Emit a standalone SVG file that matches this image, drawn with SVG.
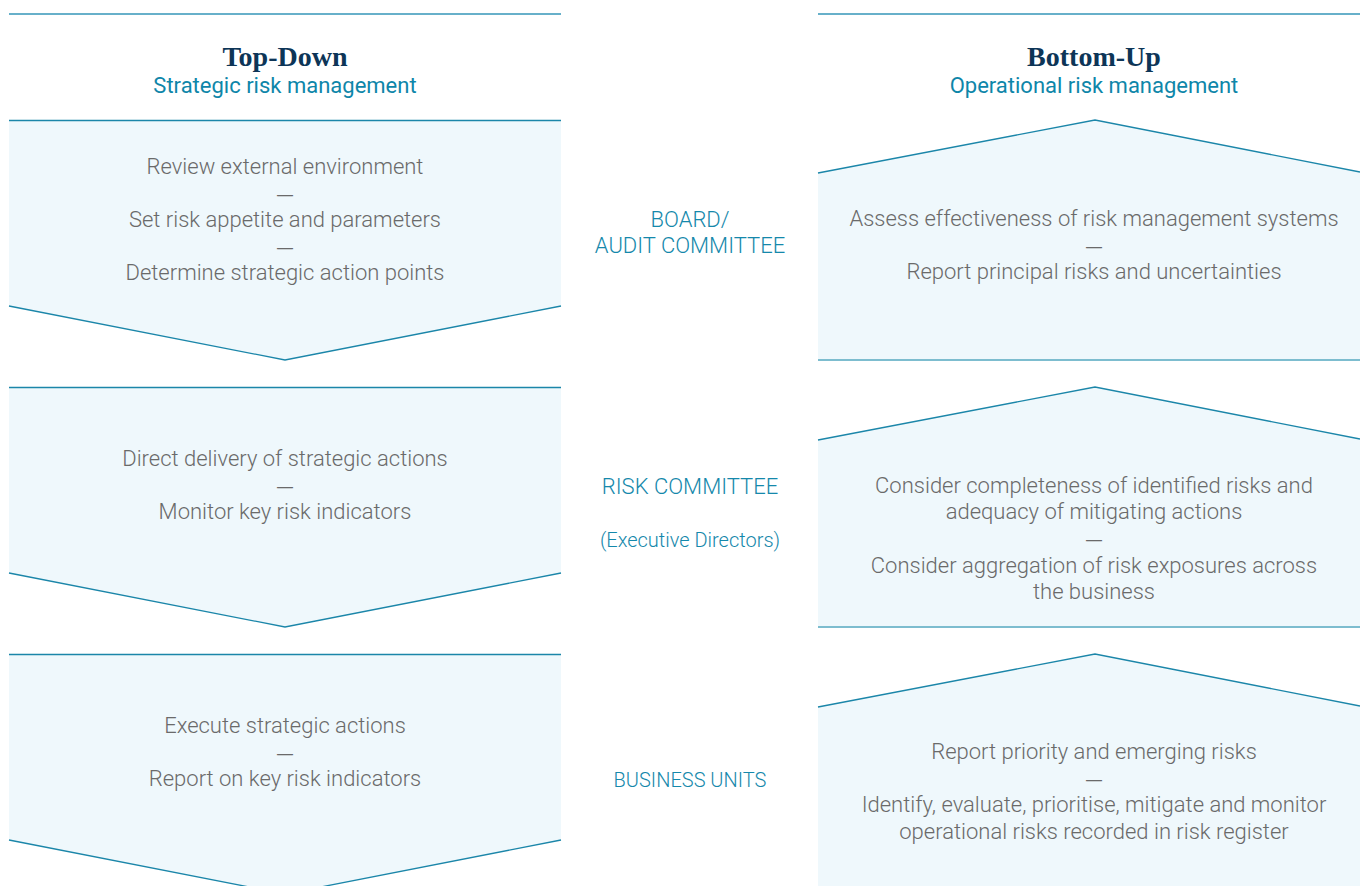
<svg xmlns="http://www.w3.org/2000/svg" width="1360" height="886" viewBox="0 0 1360 886">
  <style>
    .rule { stroke: #3596b8; stroke-width: 1.5; fill: none; }
    .box { fill: #eff8fc; stroke: none; }
    .edge { stroke: #1b86a9; stroke-width: 1.3; fill: none; }
    .base { stroke: #7dbdcf; stroke-width: 2; fill: none; }
    .title { font-family: "Liberation Serif", serif; font-weight: bold; font-size: 28px; fill: #0d3557; text-anchor: middle; }
    .sub { font-family: Roboto, "Liberation Sans", sans-serif; font-weight: 400; font-size: 22px; fill: #0e86a9; text-anchor: middle; }
    .body { font-family: Roboto, "Liberation Sans", sans-serif; font-weight: 300; font-size: 22px; fill: #6a6a6a; text-anchor: middle; }
    .dash { font-family: "Liberation Sans", Arial, sans-serif; font-size: 16px; fill: #6a6a6a; text-anchor: middle; }
    .level { font-family: Roboto, "Liberation Sans", sans-serif; font-weight: 300; font-size: 22px; fill: #1588ab; text-anchor: middle; }
    .levelsm { font-family: Roboto, "Liberation Sans", sans-serif; font-weight: 300; font-size: 20px; fill: #1588ab; text-anchor: middle; }
  </style>

  <!-- Column headers -->
  <g id="header-top-down">
    <line class="rule" x1="9" y1="14" x2="561" y2="14"/>
    <text class="title" x="285" y="66">Top-Down</text>
    <text class="sub" x="285" y="93">Strategic risk management</text>
  </g>
  <g id="header-bottom-up">
    <line class="rule" x1="818" y1="14" x2="1360" y2="14"/>
    <text class="title" x="1094" y="66">Bottom-Up</text>
    <text class="sub" x="1094" y="93">Operational risk management</text>
  </g>

  <!-- Top-down: downward chevron panels -->
  <g id="td-board">
    <polygon class="box" points="9,120 561,120 561,306 285,360 9,306"/>
    <line class="edge" x1="9" y1="120.5" x2="561" y2="120.5"/>
    <polyline class="edge" points="9,306 285,360 561,306"/>
    <text class="body" x="285" y="174">Review external environment</text>
    <text class="dash" x="285" y="199.5">—</text>
    <text class="body" x="285" y="227">Set risk appetite and parameters</text>
    <text class="dash" x="285" y="252.5">—</text>
    <text class="body" x="285" y="280">Determine strategic action points</text>
  </g>
  <g id="td-risk-committee">
    <polygon class="box" points="9,387 561,387 561,573 285,627 9,573"/>
    <line class="edge" x1="9" y1="387.5" x2="561" y2="387.5"/>
    <polyline class="edge" points="9,573 285,627 561,573"/>
    <text class="body" x="285" y="466">Direct delivery of strategic actions</text>
    <text class="dash" x="285" y="491.5">—</text>
    <text class="body" x="285" y="519">Monitor key risk indicators</text>
  </g>
  <g id="td-business-units">
    <polygon class="box" points="9,654 561,654 561,840 285,894 9,840"/>
    <line class="edge" x1="9" y1="654.5" x2="561" y2="654.5"/>
    <polyline class="edge" points="9,840 285,894 561,840"/>
    <text class="body" x="285" y="733">Execute strategic actions</text>
    <text class="dash" x="285" y="758.5">—</text>
    <text class="body" x="285" y="786">Report on key risk indicators</text>
  </g>

  <!-- Governance levels -->
  <g id="level-board">
    <text class="level" x="690" y="226.5">BOARD/</text>
    <text class="level" x="690" y="253.3">AUDIT COMMITTEE</text>
  </g>
  <g id="level-risk-committee">
    <text class="level" x="690" y="494">RISK COMMITTEE</text>
    <text class="levelsm" x="690" y="547">(Executive Directors)</text>
  </g>
  <g id="level-business-units">
    <text class="levelsm" x="690" y="786.5">BUSINESS UNITS</text>
  </g>

  <!-- Bottom-up: upward chevron panels -->
  <g id="bu-board">
    <polygon class="box" points="818,173 1095,120 1360,172 1360,360 818,360"/>
    <polyline class="edge" points="818,173 1095,120 1360,172"/>
    <line class="base" x1="818" y1="360" x2="1360" y2="360"/>
    <text class="body" x="1094" y="226">Assess effectiveness of risk management systems</text>
    <text class="dash" x="1094" y="251.5">—</text>
    <text class="body" x="1094" y="279">Report principal risks and uncertainties</text>
  </g>
  <g id="bu-risk-committee">
    <polygon class="box" points="818,440 1095,387 1360,439 1360,627 818,627"/>
    <polyline class="edge" points="818,440 1095,387 1360,439"/>
    <line class="base" x1="818" y1="627" x2="1360" y2="627"/>
    <text class="body" x="1094" y="492.7">Consider completeness of identified risks and</text>
    <text class="body" x="1094" y="519.3">adequacy of mitigating actions</text>
    <text class="dash" x="1094" y="545">—</text>
    <text class="body" x="1094" y="572.7">Consider aggregation of risk exposures across</text>
    <text class="body" x="1094" y="598.5">the business</text>
  </g>
  <g id="bu-business-units">
    <polygon class="box" points="818,707 1095,654 1360,706 1360,886 818,886"/>
    <polyline class="edge" points="818,707 1095,654 1360,706"/>
    <text class="body" x="1094" y="759">Report priority and emerging risks</text>
    <text class="dash" x="1094" y="784.5">—</text>
    <text class="body" x="1094" y="812">Identify, evaluate, prioritise, mitigate and monitor</text>
    <text class="body" x="1094" y="839">operational risks recorded in risk register</text>
  </g>

  <!-- No connectors between panels; the chevrons carry the flow direction -->
  <g id="connectors"/>
</svg>
